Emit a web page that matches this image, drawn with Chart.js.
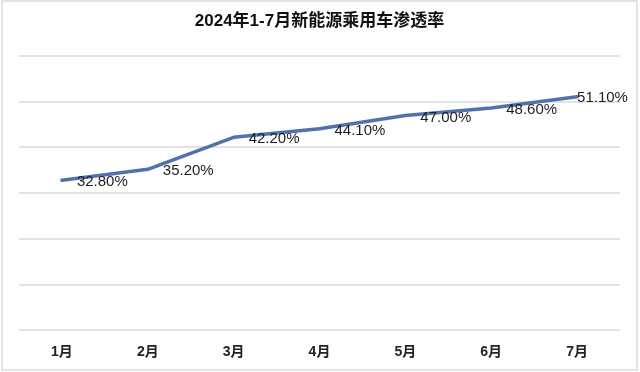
<!DOCTYPE html>
<html>
<head>
<meta charset="utf-8">
<script src="https://cdn.jsdelivr.net/npm/chart.js@4"></script>
<style>
  html, body { margin: 0; padding: 0; background: #fff; }
  #wrap { position: relative; width: 640px; height: 372px; }
  #frame { position: absolute; left: 1px; top: 0px; width: 633px; height: 367px; border: 2px solid #e2e2e2; pointer-events: none; }
  canvas { position: absolute; left: 0; top: 0; }
</style>
</head>
<body>
<div id="wrap">
  <canvas id="c" width="640" height="372"></canvas>
  <div id="frame"></div>
</div>
<script>
const titleText = '2024年1-7月新能源乘用车渗透率';
const months = ['1月', '2月', '3月', '4月', '5月', '6月', '7月'];
const penetration = [32.8, 35.2, 42.2, 44.1, 47.0, 48.6, 51.1];
const yTicks = [0, 10, 20, 30, 40, 50, 60];

const FONT = "'Liberation Sans', Arial, 'Noto Sans CJK SC', sans-serif";

const valueLabels = {
  id: 'valueLabels',
  afterDatasetsDraw(chart) {
    const ctx = chart.ctx;
    const xs = chart.scales.x, ys = chart.scales.y;
    ctx.save();
    ctx.font = '15px ' + FONT;
    ctx.fillStyle = '#1e1e1e';
    ctx.textBaseline = 'middle';
    ctx.textAlign = 'left';
    const last = penetration.length - 1;
    penetration.forEach((v, i) => {
      const x = xs.getPixelForValue(i);
      const y = ys.getPixelForValue(v);
      const dx = i === last ? 0 : 15;
      const dy = i === last ? 1 : 2;
      ctx.fillText(v.toFixed(2) + '%', x + dx, y + dy);
    });
    ctx.restore();
  }
};

new Chart(document.getElementById('c'), {
  type: 'line',
  data: {
    labels: months,
    datasets: [{
      data: penetration,
      borderColor: '#4f72ad',
      borderWidth: 3.5,
      pointRadius: 0,
      tension: 0,
      borderJoinStyle: 'round',
      borderCapStyle: 'round',
      fill: false
    }]
  },
  options: {
    responsive: false,
    animation: false,
    layout: { padding: { top: 8, left: 19, right: 20, bottom: -3 } },
    plugins: {
      legend: { display: false },
      tooltip: { enabled: false },
      title: {
        display: true,
        text: titleText,
        color: '#111',
        font: { family: FONT, size: 17, weight: 'bold', lineHeight: 1.2 },
        padding: { top: 3, bottom: 24.6 }
      }
    },
    scales: {
      x: {
        offset: true,
        grid: { display: false, drawTicks: false },
        border: { display: false },
        ticks: {
          color: '#222',
          padding: 14,
          font: { family: FONT, size: 14, weight: 'bold', lineHeight: 1.2 }
        }
      },
      y: {
        min: 0, max: 60,
        afterBuildTicks(scale) { scale.ticks = yTicks.map(v => ({ value: v })); },
        grid: { color: '#e3e3e3', lineWidth: 2, drawTicks: false },
        border: { display: false },
        ticks: { display: false }
      }
    }
  },
  plugins: [valueLabels]
});
</script>
</body>
</html>
